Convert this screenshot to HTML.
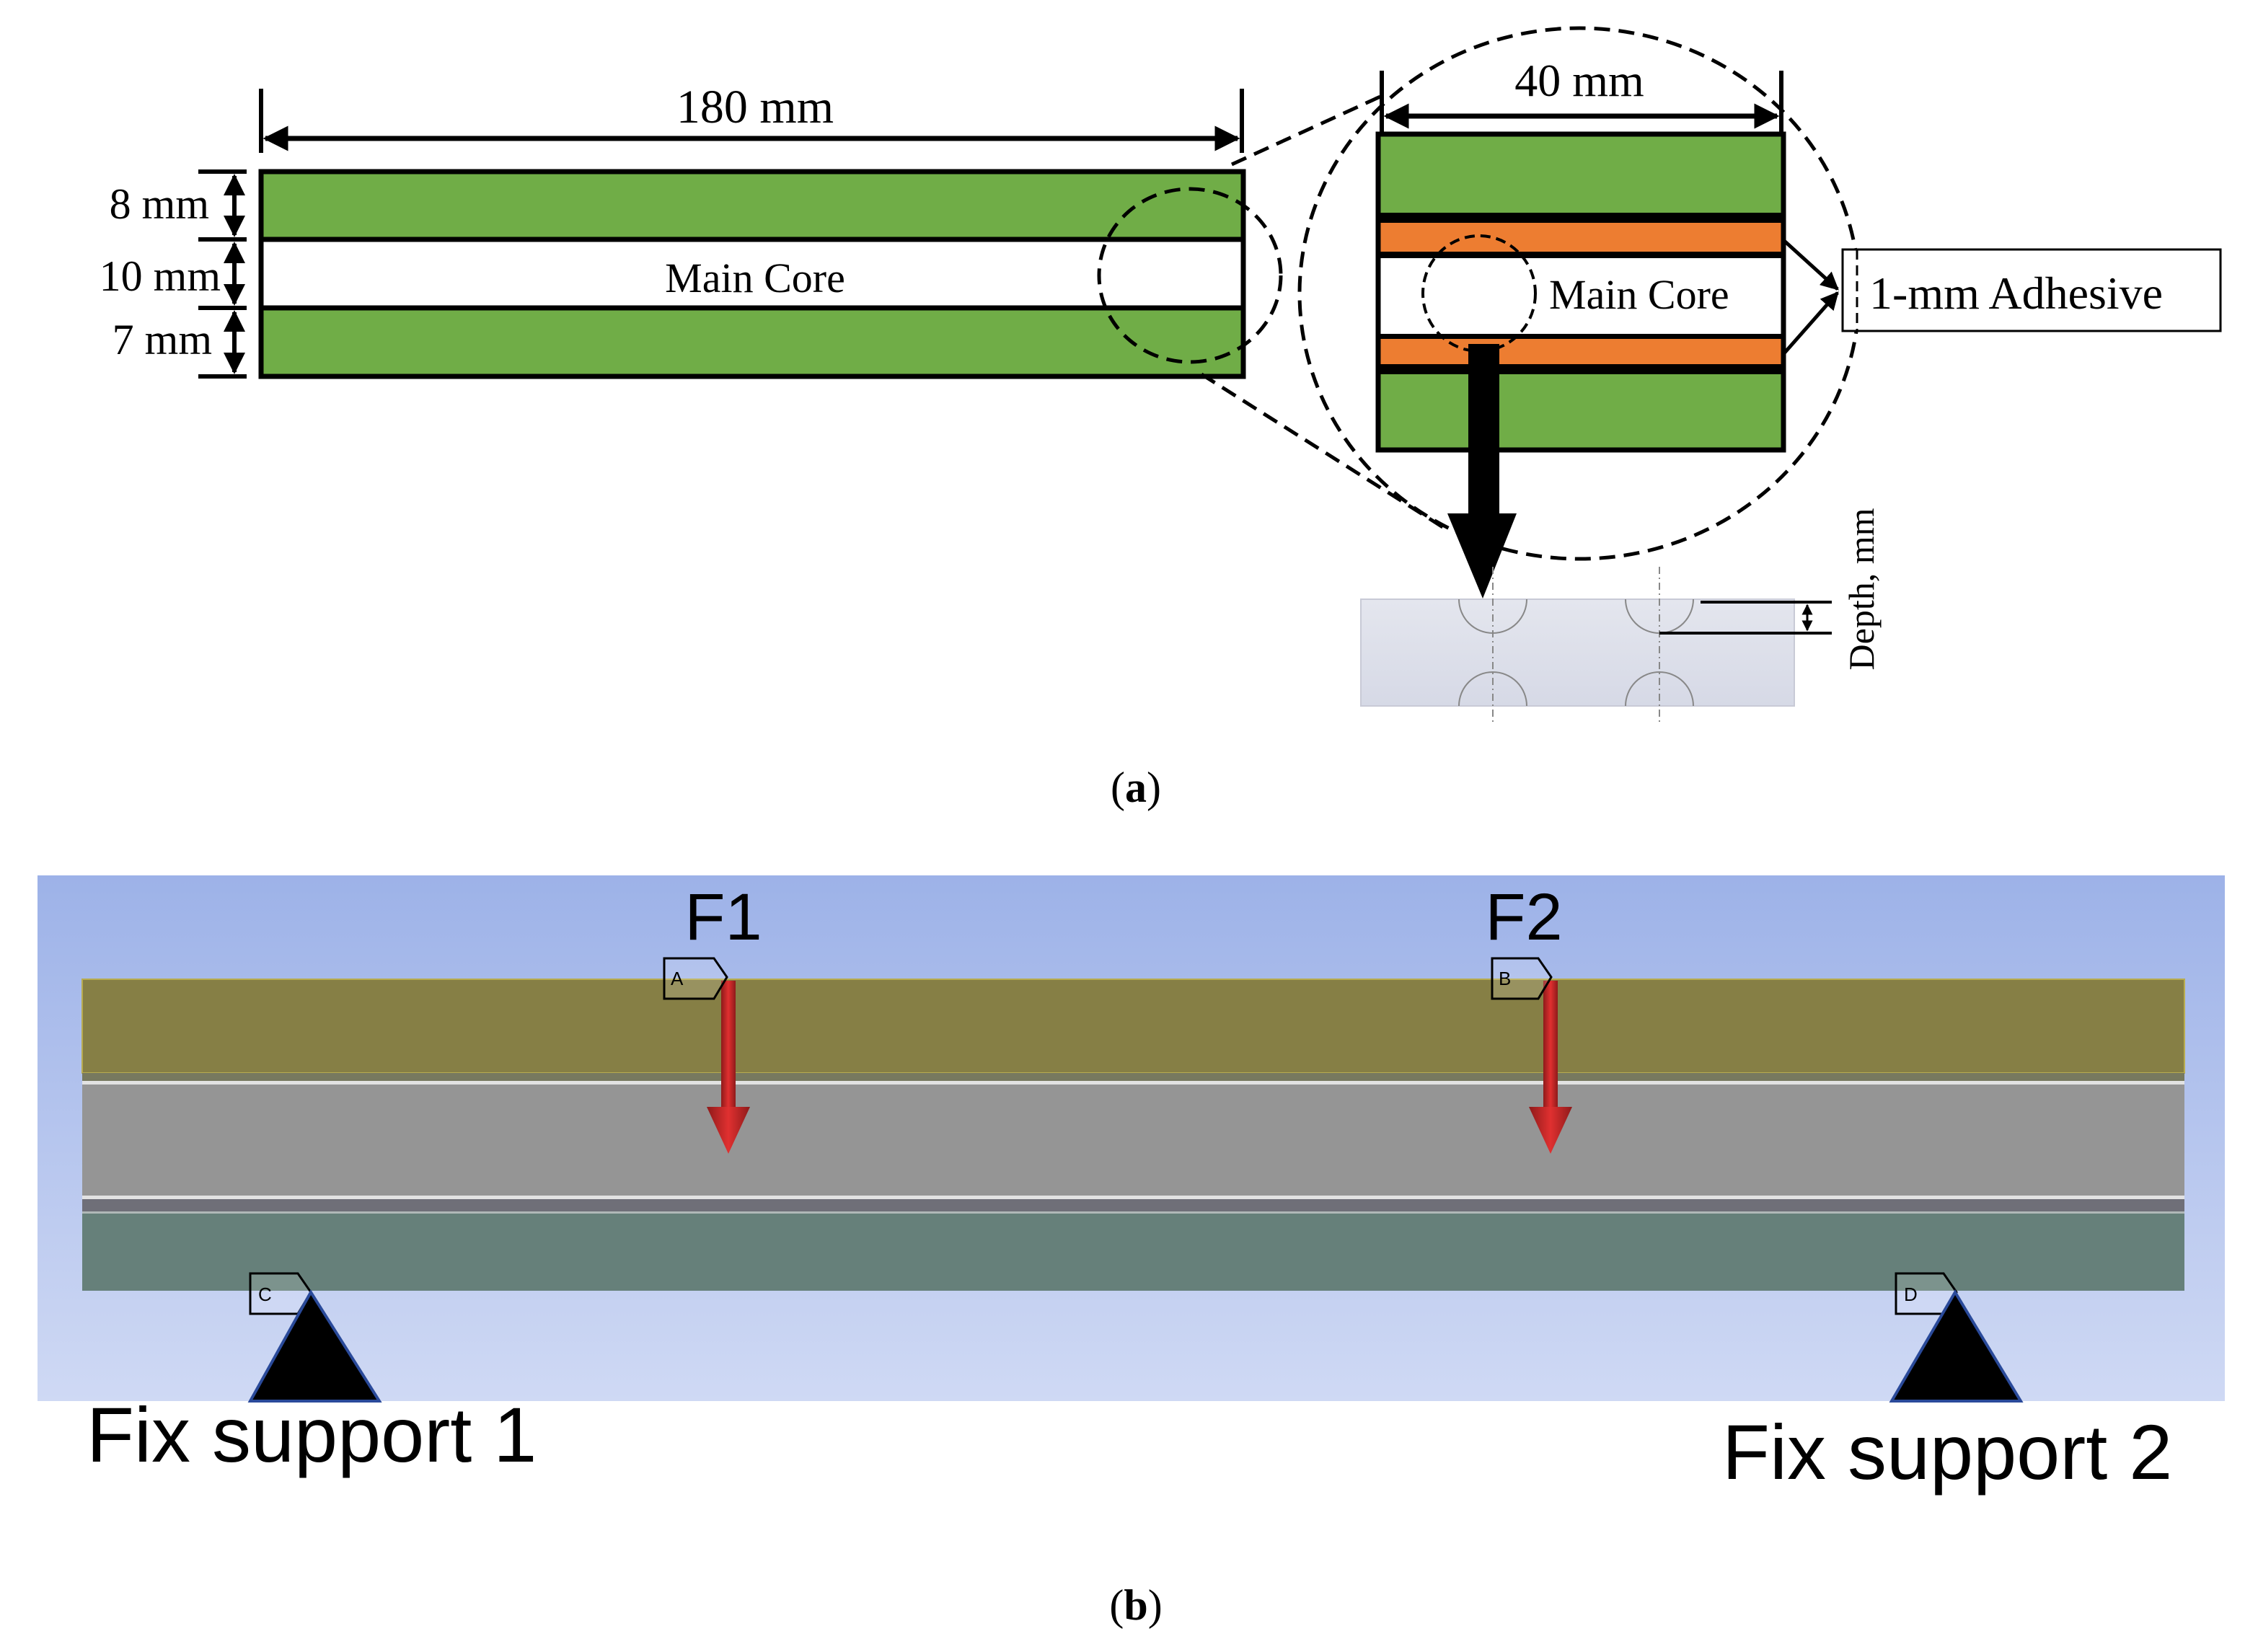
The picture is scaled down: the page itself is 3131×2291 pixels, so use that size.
<!DOCTYPE html>
<html><head><style>html,body{margin:0;padding:0;background:#fff}svg{display:block}</style></head>
<body>
<svg width="3131" height="2291" viewBox="0 0 3131 2291" xmlns="http://www.w3.org/2000/svg">
<defs>
<marker id="ah" viewBox="0 0 10 10" refX="9" refY="5" markerWidth="5" markerHeight="5" orient="auto-start-reverse"><path d="M0,0 L10,5 L0,10 z" fill="#000"/></marker>
<linearGradient id="bg" x1="0" y1="0" x2="0" y2="1"><stop offset="0" stop-color="#9db2e8"/><stop offset="1" stop-color="#cfd9f4"/></linearGradient>
<linearGradient id="blk" x1="0" y1="0" x2="0" y2="1"><stop offset="0" stop-color="#e4e6ee"/><stop offset="1" stop-color="#d6d9e6"/></linearGradient>
<linearGradient id="red" x1="0" y1="0" x2="1" y2="0"><stop offset="0" stop-color="#8e1a1a"/><stop offset="0.5" stop-color="#e03030"/><stop offset="1" stop-color="#8e1a1a"/></linearGradient>
</defs>
<g font-family="Liberation Serif, serif" fill="#000">
<line x1="362" y1="123" x2="362" y2="212" stroke="#000" stroke-width="6"/>
<line x1="1722" y1="123" x2="1722" y2="212" stroke="#000" stroke-width="6"/>
<line x1="368" y1="192" x2="1716" y2="192" stroke="#000" stroke-width="7" marker-start="url(#ah)" marker-end="url(#ah)"/>
<text x="1047" y="170" font-size="66" text-anchor="middle">180 mm</text>
<rect x="362" y="238" width="1362" height="94" fill="#70ad47"/>
<rect x="362" y="332" width="1362" height="95" fill="#fff"/>
<rect x="362" y="427" width="1362" height="95" fill="#70ad47"/>
<rect x="362" y="238" width="1362" height="284" fill="none" stroke="#000" stroke-width="7"/>
<line x1="362" y1="332" x2="1724" y2="332" stroke="#000" stroke-width="7"/>
<line x1="362" y1="427" x2="1724" y2="427" stroke="#000" stroke-width="7"/>
<text x="1047" y="405" font-size="58" text-anchor="middle">Main Core</text>
<g stroke="#000" stroke-width="6">
<line x1="275" y1="238" x2="342" y2="238"/><line x1="275" y1="332" x2="342" y2="332"/>
<line x1="275" y1="427" x2="342" y2="427"/><line x1="275" y1="522" x2="342" y2="522"/>
<line x1="325" y1="244" x2="325" y2="326" marker-start="url(#ah)" marker-end="url(#ah)"/>
<line x1="325" y1="338" x2="325" y2="421" marker-start="url(#ah)" marker-end="url(#ah)"/>
<line x1="325" y1="433" x2="325" y2="516" marker-start="url(#ah)" marker-end="url(#ah)"/>
</g>
<text x="290" y="303" font-size="60" text-anchor="end">8 mm</text>
<text x="306" y="403" font-size="60" text-anchor="end">10 mm</text>
<text x="294" y="491" font-size="60" text-anchor="end">7 mm</text>
<g fill="none" stroke="#000" stroke-width="5" stroke-dasharray="22,12">
<ellipse cx="1650" cy="382" rx="126" ry="120"/>
<line x1="1708" y1="228" x2="1916" y2="133"/>
<line x1="1666" y1="519" x2="2010" y2="737"/>
<ellipse cx="2190" cy="407" rx="388" ry="368"/>
</g>
<line x1="1916" y1="98" x2="1916" y2="186" stroke="#000" stroke-width="6"/>
<line x1="2470" y1="98" x2="2470" y2="186" stroke="#000" stroke-width="6"/>
<line x1="1922" y1="161" x2="2464" y2="161" stroke="#000" stroke-width="7" marker-start="url(#ah)" marker-end="url(#ah)"/>
<text x="2190" y="133" font-size="64" text-anchor="middle">40 mm</text>
<rect x="1911" y="186" width="562" height="109" fill="#70ad47"/>
<rect x="1911" y="295" width="562" height="14" fill="#000"/>
<rect x="1911" y="309" width="562" height="40" fill="#ed7d31"/>
<rect x="1911" y="349" width="562" height="9" fill="#000"/>
<rect x="1911" y="358" width="562" height="105" fill="#fff"/>
<rect x="1911" y="463" width="562" height="7" fill="#000"/>
<rect x="1911" y="470" width="562" height="35" fill="#ed7d31"/>
<rect x="1911" y="505" width="562" height="14" fill="#000"/>
<rect x="1911" y="519" width="562" height="105" fill="#70ad47"/>
<rect x="1911" y="186" width="562" height="438" fill="none" stroke="#000" stroke-width="7"/>
<text x="2148" y="428" font-size="58">Main Core</text>
<ellipse cx="2051" cy="407" rx="78" ry="80" fill="none" stroke="#000" stroke-width="4" stroke-dasharray="14,8"/>
<line x1="2473" y1="333" x2="2548" y2="401" stroke="#000" stroke-width="5" marker-end="url(#ah)"/>
<line x1="2473" y1="491" x2="2548" y2="406" stroke="#000" stroke-width="5" marker-end="url(#ah)"/>
<rect x="2555" y="346" width="524" height="113" fill="#fff" stroke="#000" stroke-width="3"/>
<line x1="2575" y1="346" x2="2575" y2="459" stroke="#000" stroke-width="3" stroke-dasharray="14,8"/>
<text x="2592" y="428" font-size="64">1-mm Adhesive</text>
<rect x="2036" y="477" width="43" height="237" fill="#000"/>
<polygon points="2007,712 2103,712 2056,830" fill="#000"/>
<rect x="1887" y="831" width="601" height="148" fill="url(#blk)" stroke="#c8cad6" stroke-width="2"/>
<g fill="none" stroke="#888" stroke-width="2">
<path d="M2023,831 A47,47 0 0 0 2117,831"/><path d="M2254,831 A47,47 0 0 0 2348,831"/>
<path d="M2023,979 A47,47 0 0 1 2117,979"/><path d="M2254,979 A47,47 0 0 1 2348,979"/>
<line x1="2070" y1="786" x2="2070" y2="1003" stroke-dasharray="10,5,2,5"/>
<line x1="2301" y1="786" x2="2301" y2="1003" stroke-dasharray="10,5,2,5"/>
</g>
<line x1="2358" y1="835" x2="2540" y2="835" stroke="#000" stroke-width="4"/>
<line x1="2301" y1="878" x2="2540" y2="878" stroke="#000" stroke-width="4"/>
<line x1="2506" y1="839" x2="2506" y2="874" stroke="#000" stroke-width="3" marker-start="url(#ah)" marker-end="url(#ah)"/>
<text transform="translate(2598,817) rotate(-90)" font-size="50" text-anchor="middle">Depth, mm</text>
<text x="1575" y="1112" font-size="60" text-anchor="middle">(<tspan font-weight="bold">a</tspan>)</text>
<text x="1575" y="2246" font-size="60" text-anchor="middle">(<tspan font-weight="bold">b</tspan>)</text>
</g>
<rect x="52" y="1214" width="3033" height="729" fill="url(#bg)"/>
<rect x="114" y="1358" width="2915" height="130" fill="#867f45" stroke="#b8ac50" stroke-width="2"/>
<rect x="114" y="1488" width="2915" height="11" fill="#77795f"/>
<rect x="114" y="1499" width="2915" height="5" fill="#e2e2e2"/>
<rect x="114" y="1504" width="2915" height="154" fill="#959595"/>
<rect x="114" y="1658" width="2915" height="5" fill="#e2e2e2"/>
<rect x="114" y="1663" width="2915" height="17" fill="#6f6f78"/>
<rect x="114" y="1680" width="2915" height="3" fill="#b0b8b8"/>
<rect x="114" y="1683" width="2915" height="107" fill="#66807a"/>
<g font-family="Liberation Sans, sans-serif">
<text x="1003" y="1303" font-size="92" text-anchor="middle">F1</text>
<text x="2113" y="1303" font-size="92" text-anchor="middle">F2</text>
<text x="120" y="2027" font-size="108">Fix support 1</text>
<text x="2388" y="2051" font-size="108">Fix support 2</text>
</g>
<rect x="1000" y="1360" width="20" height="177" fill="url(#red)"/>
<polygon points="980,1535 1040,1535 1010,1600" fill="url(#red)"/>
<rect x="2140" y="1360" width="20" height="177" fill="url(#red)"/>
<polygon points="2120,1535 2180,1535 2150,1600" fill="url(#red)"/>
<g fill="#fff" fill-opacity="0.15" stroke="#000" stroke-width="3">
<path d="M921,1329 H990 L1008,1355 L990,1385 H921 Z"/><path d="M2069,1329 H2133 L2151,1355 L2133,1385 H2069 Z"/>
<path d="M347,1766 H413 L431,1792 L413,1822 H347 Z"/><path d="M2629,1766 H2695 L2713,1792 L2695,1822 H2629 Z"/>
</g>
<g font-family="Liberation Sans, sans-serif" font-size="26" fill="#000">
<text x="930" y="1366">A</text><text x="2078" y="1366">B</text><text x="358" y="1804">C</text><text x="2640" y="1804">D</text>
</g>
<polygon points="431,1792 347,1943 526,1943" fill="#000" stroke="#2a4a9a" stroke-width="4"/>
<polygon points="2711,1792 2623,1943 2802,1943" fill="#000" stroke="#2a4a9a" stroke-width="4"/>
</svg>
</body></html>
